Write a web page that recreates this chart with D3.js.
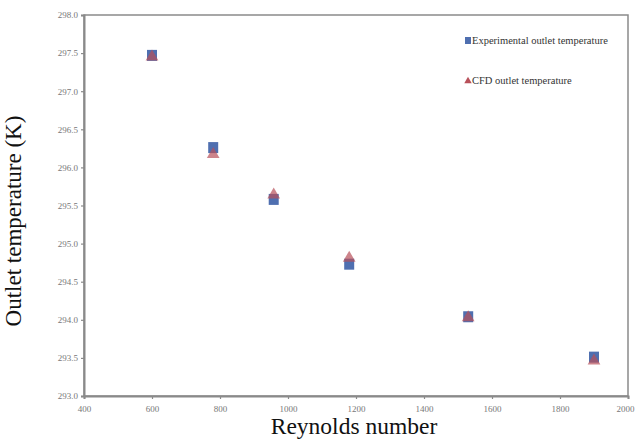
<!DOCTYPE html>
<html>
<head>
<meta charset="utf-8">
<script src="https://cdn.jsdelivr.net/npm/d3@7"></script>
<style>
  body { margin: 0; background: #fff; }
  svg { display: block; }
</style>
</head>
<body>
<div id="chart"></div>
<script>
// Values
const reynolds = [600, 780, 958, 1180, 1530, 1900];
const expTemp = [297.47, 296.26, 295.58, 294.73, 294.04, 293.51];
const cfdTemp = [297.45, 296.17, 295.64, 294.81, 294.03, 293.46];
const xTicks = [400, 600, 800, 1000, 1200, 1400, 1600, 1800, 2000];
const yTicks = [293.0, 293.5, 294.0, 294.5, 295.0, 295.5, 296.0, 296.5, 297.0, 297.5, 298.0];

const width = 636, height = 441;
const margin = {top: 15, right: 8, bottom: 45, left: 84};

const svg = d3.select('#chart')
    .append('svg')
    .attr('width', width)
    .attr('height', height);

const x = d3.scaleLinear()
    .domain([400, 2000])
    .range([margin.left, width - margin.right]);

const y = d3.scaleLinear()
    .domain([293, 298])
    .range([height - margin.bottom, margin.top]);

const axisColor = '#8a8a8a';
const font = '"Liberation Serif", "Times New Roman", serif';

// Frame (top and right)
svg.append('rect')
    .attr('x', x(400))
    .attr('y', y(298))
    .attr('width', x(2000) - x(400))
    .attr('height', y(293) - y(298))
    .attr('fill', 'none')
    .attr('stroke', axisColor)
    .attr('stroke-width', 1.5);

// Axes
const xAxis = svg.append('g')
    .attr('transform', `translate(0,${y(293)})`)
    .call(d3.axisBottom(x).tickValues(xTicks).tickSize(3).tickFormat(d3.format('d')));

const yAxis = svg.append('g')
    .attr('transform', `translate(${x(400)},0)`)
    .call(d3.axisLeft(y).tickValues(yTicks).tickSize(3).tickFormat(d3.format('.1f')));

[xAxis, yAxis].forEach(g => {
    g.attr('font-family', font);
    g.select('.domain').attr('stroke', axisColor).attr('stroke-width', 2);
    g.selectAll('.tick line').attr('stroke', axisColor).attr('stroke-width', 1.2);
    g.selectAll('.tick text')
        .attr('fill', '#777')
        .style('font-family', font)
        .style('font-size', '9px');
});
xAxis.selectAll('.tick text').attr('dy', '1.1em');
// last label sits at the right edge, keep it inside the page
xAxis.selectAll('.tick text').filter(d => d === 2000).attr('text-anchor', 'end').attr('dx', 6);

// Axis labels
svg.append('text')
    .attr('x', 354)
    .attr('y', 434)
    .attr('text-anchor', 'middle')
    .style('font-family', font)
    .style('font-size', '23.5px')
    .attr('fill', '#111')
    .text('Reynolds number');

svg.append('text')
    .attr('transform', 'translate(21,221) rotate(-90)')
    .attr('text-anchor', 'middle')
    .style('font-family', font)
    .style('font-size', '23px')
    .attr('fill', '#111')
    .text('Outlet temperature (K)');

const blue = '#4f6fb0';
const red = '#b8505a';

const expData = reynolds.map((r, i) => ({r: r, t: expTemp[i]}));
const cfdData = reynolds.map((r, i) => ({r: r, t: cfdTemp[i]}));

// Experimental points (squares)
svg.selectAll('.exp')
    .data(expData)
    .enter()
    .append('rect')
    .attr('class', 'exp')
    .attr('x', d => x(d.r) - 5)
    .attr('y', d => y(d.t) - 5.5)
    .attr('width', 10)
    .attr('height', 11)
    .attr('fill', blue);

// CFD points (triangles)
const tri = d3.symbol().type(d3.symbolTriangle).size(70);
svg.selectAll('.cfd')
    .data(cfdData)
    .enter()
    .append('path')
    .attr('class', 'cfd')
    .attr('d', tri)
    .attr('transform', d => `translate(${x(d.r)},${y(d.t)})`)
    .attr('fill', red)
    .attr('fill-opacity', 0.7);

// Legend
const legend = svg.append('g');
legend.append('rect')
    .attr('x', 465).attr('y', 37).attr('width', 6).attr('height', 7)
    .attr('fill', blue);
legend.append('text')
    .attr('x', 472).attr('y', 44)
    .style('font-family', font)
    .style('font-size', '10.5px')
    .attr('fill', '#333')
    .text('Experimental outlet temperature');
legend.append('path')
    .attr('d', d3.symbol().type(d3.symbolTriangle).size(24))
    .attr('transform', 'translate(468,81)')
    .attr('fill', red);
legend.append('text')
    .attr('x', 472).attr('y', 84)
    .style('font-family', font)
    .style('font-size', '10.5px')
    .attr('fill', '#333')
    .text('CFD outlet temperature');
</script>
</body>
</html>
